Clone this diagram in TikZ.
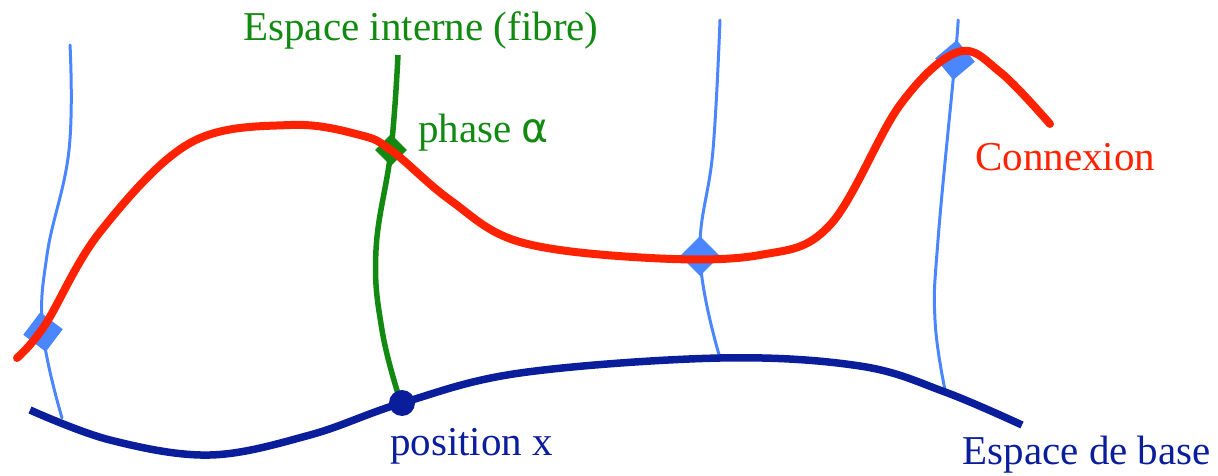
\documentclass[tikz,border=0pt]{standalone}
\usepackage{fontspec}
\setmainfont{Liberation Serif}
\newfontfamily\symfont{DejaVu Sans}
\usetikzlibrary{shapes.geometric}
\definecolor{conred}{HTML}{FF2200}
\definecolor{basblue}{HTML}{0A1E9C}
\definecolor{fibblue}{HTML}{4A86FF}
\definecolor{fibgreen}{HTML}{128A12}
\tikzset{
  lbl/.style={inner sep=0pt, font=\fontsize{41}{44}\selectfont},
  fib/.style={fibblue, line width=3pt, line cap=round},
  mark diamond/.style={diamond, fill=#1, inner sep=0pt, minimum size=40pt},
}
\begin{document}
\begin{tikzpicture}[x=1pt,y=-1pt]
\useasboundingbox (0,0) rectangle (1218,476);
% blue fibers
\draw[fib] plot[smooth, tension=0.7] coordinates {(70,45) (69,150) (47,255) (43,332) (62,418)};
\draw[fib] plot[smooth, tension=0.7] coordinates {(720,20) (713,150) (700,256) (720,358)};
\draw[fib] plot[smooth, tension=0.7] coordinates {(958,20) (955,60) (938,240) (935,320) (945,390)};
% green fiber
\draw[fibgreen, line width=5.5pt] plot[smooth, tension=0.7] coordinates {(398,55) (391,150) (376,250) (382,330) (400,400)};
% diamonds
\node[mark diamond=fibblue, rotate=8] (d1) at (43,332) {};
\node[mark diamond=fibblue] (d2) at (700,256) {};
\node[mark diamond=fibblue, rotate=-5] (d3) at (955,60) {};
\node[mark diamond=fibgreen, minimum size=32pt] (dg) at (391,150) {};
% base
\draw[basblue, line width=7.5pt] plot[smooth, tension=0.6] coordinates {(30,410) (110,440) (210,455) (310,435) (402,403) (520,373) (720,358) (860,366) (945,392) (1022,425)};
\node[circle, fill=basblue, minimum size=26pt, inner sep=0pt] (x) at (402,403) {};
% connection
\draw[conred, line width=8pt, line cap=round] plot[smooth, tension=0.6] coordinates {(17,358) (45,325) (100,232) (190,143) (290,125) (360,135) (392,151) (450,200) (520,242) (650,258) (760,255) (830,225) (900,105) (958,52) (1000,72) (1050,124)};
% labels
\node[lbl, text=fibgreen, anchor=center] (lf) at (421,30) {Espace interne (fibre)};
\node[lbl, text=fibgreen, anchor=west] (lp) at (418,133) {phase {\symfont α}};
\node[lbl, text=conred, anchor=west] (lc) at (975,157) {Connexion};
\node[lbl, text=basblue, anchor=west] (lx) at (390,446) {position x};
\node[lbl, text=basblue, anchor=east] (lb) at (1211,455) {Espace de base};
\end{tikzpicture}
\end{document}
